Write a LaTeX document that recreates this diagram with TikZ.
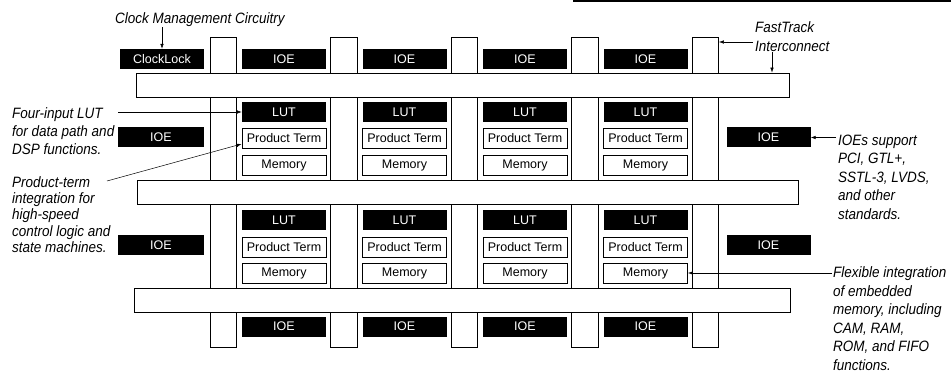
\documentclass[tikz,border=0pt]{standalone}
\usepackage{fontspec}
\setmainfont{Liberation Sans}
\newfontfamily\notefont[FakeStretch=0.9]{Liberation Sans}
\usetikzlibrary{arrows.meta, positioning}

\tikzset{
    >={Latex[length=5pt,width=3.5pt]},
    chan/.style={draw, line width=0.8pt, inner sep=0pt, minimum width=26.5pt, minimum height=310pt},
    hbar/.style={draw, fill=white, line width=0.8pt, inner sep=0pt, minimum height=24pt},
    ioe/.style={fill=black, text=white, inner sep=0pt, minimum width=84pt, minimum height=20pt, font=\fontsize{12.5}{14}\selectfont},
    cell/.style={draw, fill=white, line width=0.8pt, inner sep=0pt, minimum width=84pt, minimum height=20pt, font=\fontsize{12.5}{14}\selectfont},
    note/.style={align=left, inner sep=0pt, anchor=west, font=\notefont\fontsize{15}{18}\selectfont\itshape},
    pointer/.style={->, line width=0.5pt}
}

\begin{document}
\begin{tikzpicture}[x=1pt, y=-1pt]
    \useasboundingbox (0,0) rectangle (951,374);

    % thanh ngang o dau trang
    \draw[line width=2.5pt] (573,1) -- (951,1);

    % cac kenh doc (FastTrack)
    \node[chan] (ch1) at (223.25,192) {};
    \node[chan] (ch2) at (343.75,192) {};
    \node[chan] (ch3) at (464.25,192) {};
    \node[chan] (ch4) at (584.75,192) {};
    \node[chan] (ch5) at (705.25,192) {};

    % cac kenh ngang, to trang de che kenh doc
    \node[hbar, minimum width=653pt] (hb1) at (462.5,85) {};
    \node[hbar, minimum width=661pt] (hb2) at (467.5,192) {};
    \node[hbar, minimum width=656pt] (hb3) at (462,300) {};

    % hang IOE tren cung
    \node[ioe] (ck) at (162,59) {ClockLock};
    \node[ioe] (ioet1) at (284,59) {IOE};
    \node[ioe] (ioet2) at (404.5,59) {IOE};
    \node[ioe] (ioet3) at (525,59) {IOE};
    \node[ioe] (ioet4) at (645.5,59) {IOE};

    % hang 1
    \node[ioe] (lut11) at (284,112) {LUT};
    \node[cell] (pt11) at (284,138) {Product Term};
    \node[cell] (mem11) at (284,165.5) {Memory};
    \node[ioe] (lut21) at (404.5,112) {LUT};
    \node[cell] (pt21) at (404.5,138) {Product Term};
    \node[cell] (mem21) at (404.5,165.5) {Memory};
    \node[ioe] (lut31) at (525,112) {LUT};
    \node[cell] (pt31) at (525,138) {Product Term};
    \node[cell] (mem31) at (525,165.5) {Memory};
    \node[ioe] (lut41) at (645.5,112) {LUT};
    \node[cell] (pt41) at (645.5,138) {Product Term};
    \node[cell] (mem41) at (645.5,165.5) {Memory};

    % hang 2
    \node[ioe] (lut12) at (284,220) {LUT};
    \node[cell] (pt12) at (284,247) {Product Term};
    \node[cell] (mem12) at (284,273) {Memory};
    \node[ioe] (lut22) at (404.5,220) {LUT};
    \node[cell] (pt22) at (404.5,247) {Product Term};
    \node[cell] (mem22) at (404.5,273) {Memory};
    \node[ioe] (lut32) at (525,220) {LUT};
    \node[cell] (pt32) at (525,247) {Product Term};
    \node[cell] (mem32) at (525,273) {Memory};
    \node[ioe] (lut42) at (645.5,220) {LUT};
    \node[cell] (pt42) at (645.5,247) {Product Term};
    \node[cell] (mem42) at (645.5,273) {Memory};

    % IOE hai ben
    \node[ioe, minimum width=86pt] (ioel1) at (161,137.5) {IOE};
    \node[ioe, minimum width=86pt] (ioel2) at (161,245.5) {IOE};
    \node[ioe] (ioer1) at (768.5,137.5) {IOE};
    \node[ioe] (ioer2) at (768.5,245.5) {IOE};

    % hang IOE duoi cung
    \node[ioe] (ioeb1) at (284,326.5) {IOE};
    \node[ioe] (ioeb2) at (404.5,326.5) {IOE};
    \node[ioe] (ioeb3) at (525,326.5) {IOE};
    \node[ioe] (ioeb4) at (645.5,326.5) {IOE};

    % chu thich
    \node[note] (clkt) at (115,20) {Clock Management Circuitry};
    \node[note, font=\notefont\fontsize{15}{19}\selectfont\itshape] (ftt) at (755,36.5) {FastTrack\\Interconnect};
    \node[note] (fourt) at (12,131) {Four-input LUT\\for data path and\\DSP functions.};
    \node[note, font=\notefont\fontsize{15}{16.3}\selectfont\itshape] (prodt) at (12,214.5) {Product-term\\integration for\\high-speed\\control logic and\\state machines.};
    \node[note, font=\notefont\fontsize{15}{18.5}\selectfont\itshape] (iot) at (838,177) {IOEs support\\PCI, GTL+,\\SSTL-3, LVDS,\\and other\\standards.};
    \node[note, font=\notefont\fontsize{15}{18.5}\selectfont\itshape] (flext) at (833,318.5) {Flexible integration\\of embedded\\memory, including\\CAM, RAM,\\ROM, and FIFO\\functions.};

    % diem dau cua mui ten
    \coordinate (fta) at (753,42);
    \coordinate (ftb) at (772,52);
    \coordinate (fa) at (118,112);
    \coordinate (pa) at (107,181);
    \coordinate (ia) at (836,137.5);
    \coordinate (ma) at (832,273);

    % mui ten
    \draw[pointer] (ck.north |- clkt.south) -- (ck.north);
    \draw[pointer] (fta) -- (fta -| ch5.east);
    \draw[pointer] (ftb) -- (ftb |- hb1.north);
    \draw[pointer] (fa) -- (lut11.west);
    \draw[pointer] (pa) -- ([yshift=-6pt]pt11.west);
    \draw[pointer] (ia) -- (ioer1.east);
    \draw[pointer] (ma) -- (mem42.east);
\end{tikzpicture}
\end{document}
